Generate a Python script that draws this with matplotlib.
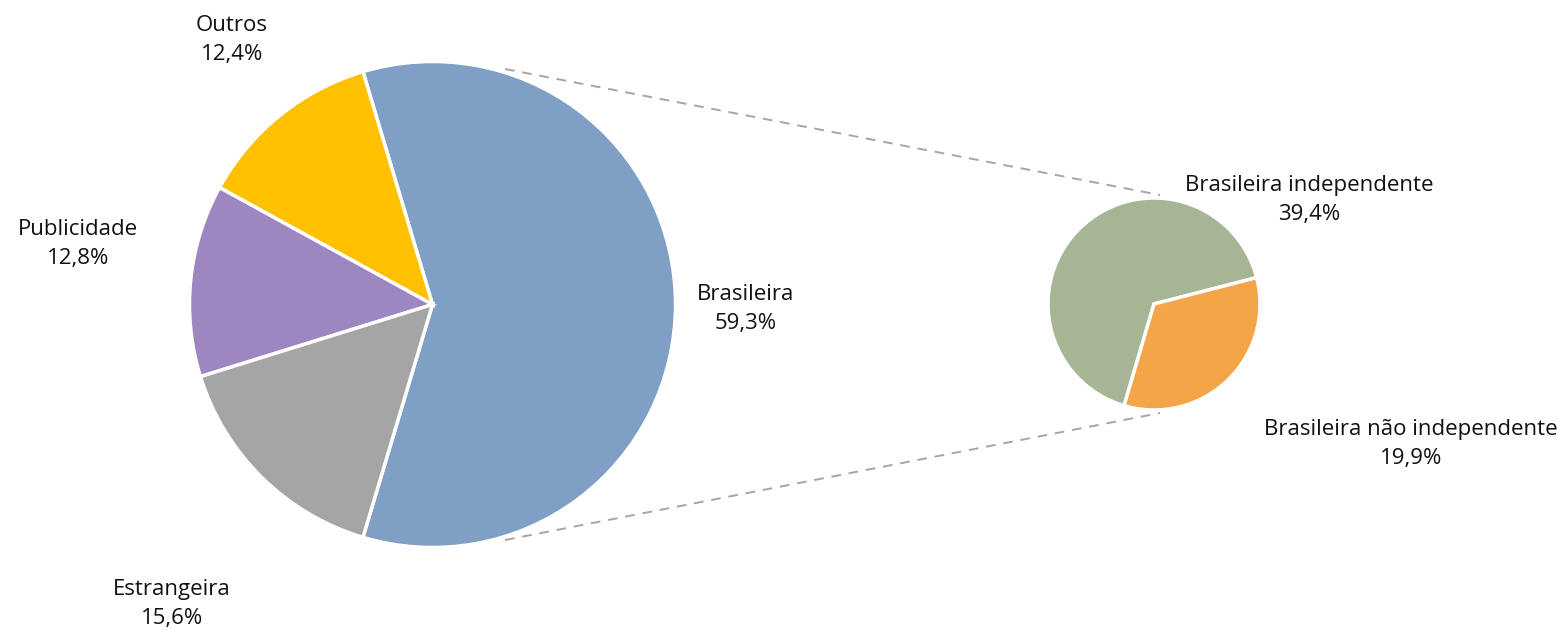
import matplotlib
matplotlib.use('Agg')
import matplotlib.pyplot as plt

plt.rcParams['font.family'] = ['Open Sans', 'DejaVu Sans']

# main pie
main_labels = ['Brasileira', 'Outros', 'Publicidade', 'Estrangeira']
main_values = [59.3, 12.4, 12.8, 15.6]
main_colors = ['#7F9FC4', '#FFC000', '#9E86C1', '#A5A5A5']

# breakdown of "Brasileira"
sub_labels = ['Brasileira independente', 'Brasileira não independente']
sub_values = [39.4, 19.9]
sub_colors = ['#A6B593', '#F3A547']

W, H = 1563, 633
fig = plt.figure(figsize=(W / 100, H / 100), dpi=100)
ax = fig.add_axes([0, 0, 1, 1])

wp = dict(edgecolor='white', linewidth=2.5)

# Brasileira slice centred on the right-hand side
start_main = -main_values[0] / sum(main_values) * 360 / 2
ax.pie(main_values, colors=main_colors, startangle=start_main,
       center=(432.5, H - 304.5), radius=243, wedgeprops=wp, frame=True)

sub_frac = sub_values[1] / sum(sub_values) * 360
start_sub = -106.4 + sub_frac
ax.pie(sub_values, colors=sub_colors, startangle=start_sub,
       center=(1154, H - 304), radius=106, wedgeprops=wp, frame=True)
ax.set_xlim(0, W)
ax.set_ylim(0, H)
ax.set_aspect('equal')
ax.axis('off')

# connector lines
ax.plot([505, 1160], [H - 69, H - 195], ls=(0, (5, 4)), color='#A6A6A6', lw=1.4)
ax.plot([505, 1160], [H - 540, H - 413], ls=(0, (5, 4)), color='#A6A6A6', lw=1.4)

fs = 16
def lab(x, y, name, val):
    ax.text(x, H - y, f"{name}\n{val:.1f}%".replace('.', ','), ha='center',
            va='center', fontsize=fs, linespacing=1.45, color='#111111')

lab(232, 40, main_labels[1], main_values[1])
lab(78, 244, main_labels[2], main_values[2])
lab(746, 309, main_labels[0], main_values[0])
lab(172, 604, main_labels[3], main_values[3])
lab(1309, 200, sub_labels[0], sub_values[0])
lab(1411, 444, sub_labels[1], sub_values[1])

fig.savefig('out.png', dpi=100, facecolor='white')
